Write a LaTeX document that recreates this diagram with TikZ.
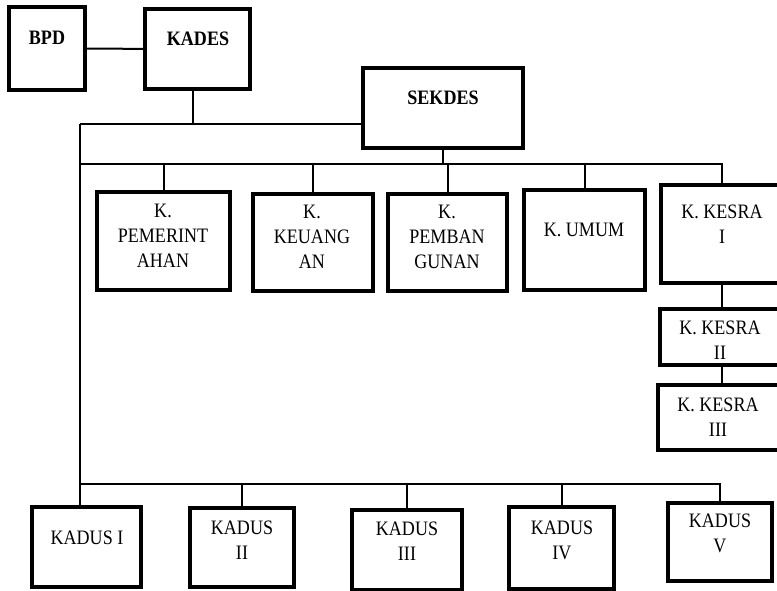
\documentclass[tikz,border=0pt]{standalone}
\usepackage{fontspec}
\setmainfont{Liberation Serif}[FakeStretch=0.88]
\usepackage{tikz}

\tikzset{
  box/.style={draw, rectangle, line width=4pt, inner sep=0pt},
  lbl/.style={align=center, inner sep=0pt, font=\fontsize{20.5}{25}\selectfont},
  link/.style={line width=2pt}
}

\begin{document}
\begin{tikzpicture}[x=1pt, y=-1pt]
\useasboundingbox (0,0) rectangle (777,591);

% top
\node[box, minimum width=76, minimum height=83] (bpd) at (47,48.5) {};
\node[lbl, font=\fontsize{20.5}{25}\selectfont\bfseries] (bpdL) at (47,38) {BPD};
\node[box, minimum width=105, minimum height=80] (kades) at (197.5,49) {};
\node[lbl, font=\fontsize{20.5}{25}\selectfont\bfseries] (kadesL) at (198,39) {KADES};
\node[box, minimum width=160, minimum height=80] (sekdes) at (443,108) {};
\node[lbl, font=\fontsize{20.5}{25}\selectfont\bfseries] (sekdesL) at (443,98) {SEKDES};

% kepala urusan
\node[box, minimum width=133, minimum height=98] (pem) at (163.5,241) {};
\node[lbl] (pemL) at (163,236) {K.\\PEMERINT\\AHAN};
\node[box, minimum width=120, minimum height=97] (keu) at (313,242.5) {};
\node[lbl] (keuL) at (312,237) {K.\\KEUANG\\AN};
\node[box, minimum width=119, minimum height=97] (pemb) at (447.5,242.5) {};
\node[lbl] (pembL) at (447,237) {K.\\PEMBAN\\GUNAN};
\node[box, minimum width=121, minimum height=100] (umum) at (584.5,240) {};
\node[lbl] (umumL) at (584,230) {K. UMUM};
\node[box, minimum width=122, minimum height=98] (kesra1) at (722,234) {};
\node[lbl] (kesra1L) at (722,224) {K. KESRA\\I};
\node[box, minimum width=124, minimum height=56] (kesra2) at (722,337) {};
\node[lbl] (kesra2L) at (720,340) {K. KESRA\\II};
\node[box, minimum width=126, minimum height=65] (kesra3) at (721,417.5) {};
\node[lbl] (kesra3L) at (718,417) {K. KESRA\\III};

% kadus
\node[box, minimum width=109, minimum height=80] (kadus1) at (86.5,547) {};
\node[lbl] (kadus1L) at (87,538) {KADUS I};
\node[box, minimum width=104, minimum height=79] (kadus2) at (242,547.5) {};
\node[lbl] (kadus2L) at (242,540) {KADUS\\II};
\node[box, minimum width=110, minimum height=80] (kadus3) at (407,550) {};
\node[lbl] (kadus3L) at (407,541) {KADUS\\III};
\node[box, minimum width=105, minimum height=82] (kadus4) at (561.5,548) {};
\node[lbl] (kadus4L) at (562,540) {KADUS\\IV};
\node[box, minimum width=104, minimum height=78] (kadus5) at (720,542) {};
\node[lbl] (kadus5L) at (720,533) {KADUS\\V};

\coordinate (busA) at (80,124);
\coordinate (busB) at (80,164);
\coordinate (busC) at (80,484);

\draw[link] (bpd) -- (kades);
\draw[link] ([xshift=-5]kades.south) -- ([xshift=-5]kades.south |- busA);
\draw[link] (busA) -- (sekdes.west |- busA);
\draw[link] (busA) -- (busC) -- (busC |- kadus1.north);
\draw[link] (sekdes.south) -- (sekdes.south |- busB);
\draw[link] (busB) -- (kesra1.north |- busB) -- (kesra1.north);
\draw[link] (pem.north) -- (pem.north |- busB);
\draw[link] (keu.north) -- (keu.north |- busB);
\draw[link] (pemb.north) -- (pemb.north |- busB);
\draw[link] (umum.north) -- (umum.north |- busB);
\draw[link] (kesra1.south) -- (kesra1.south |- kesra2.north);
\draw[link] (kesra2.south) -- (kesra2.south |- kesra3.north);
\draw[link] (busC) -- (kadus5.north |- busC) -- (kadus5.north);
\draw[link] (kadus2.north) -- (kadus2.north |- busC);
\draw[link] (kadus3.north) -- (kadus3.north |- busC);
\draw[link] (kadus4.north) -- (kadus4.north |- busC);
\end{tikzpicture}
\end{document}
